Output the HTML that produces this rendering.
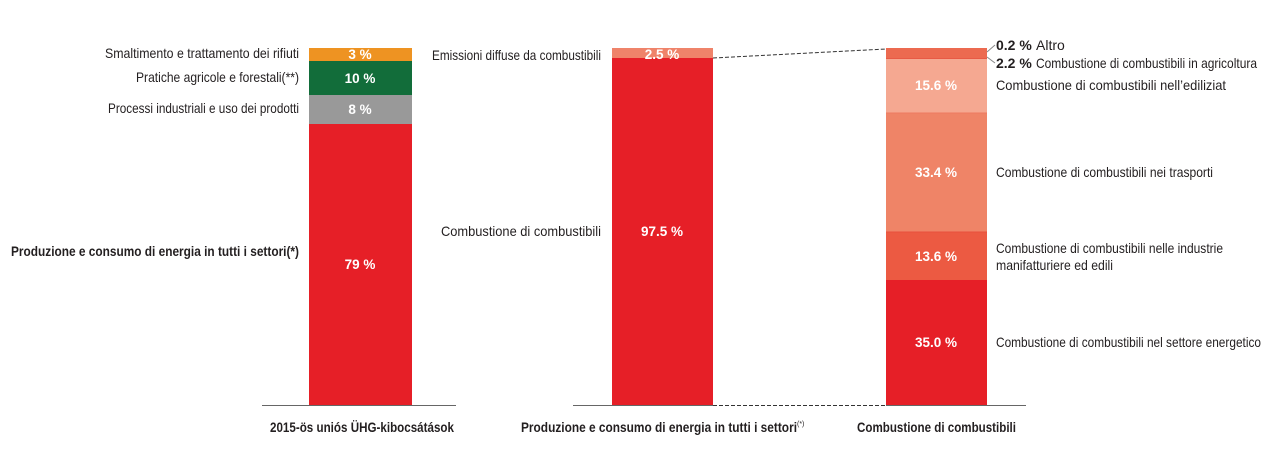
<!DOCTYPE html>
<html><head><meta charset="utf-8"><style>
html,body{margin:0;padding:0;background:#fff;width:1283px;height:471px;overflow:hidden}
svg text{font-family:"Liberation Sans Narrow","Liberation Sans",sans-serif;font-size:14px;fill:#231f20}
svg text.w{fill:#fff;font-weight:bold;font-size:13.5px}
</style></head><body>
<svg width="1283" height="471" viewBox="0 0 1283 471" xmlns="http://www.w3.org/2000/svg">
<!-- bar 1 -->
<rect x="309" y="48" width="103" height="13" fill="#ee9322"/>
<rect x="309" y="61" width="103" height="34" fill="#126d3a"/>
<rect x="309" y="95" width="103" height="29" fill="#999"/>
<rect x="309" y="124" width="103" height="281" fill="#e61f27"/>
<text class="w" x="360" y="59" text-anchor="middle">3 %</text>
<text class="w" x="360" y="83" text-anchor="middle">10 %</text>
<text class="w" x="360" y="114" text-anchor="middle">8 %</text>
<text class="w" x="360" y="269" text-anchor="middle">79 %</text>
<text x="105" y="58" textLength="194" lengthAdjust="spacingAndGlyphs">Smaltimento e trattamento dei rifiuti</text>
<text x="136" y="82" textLength="163" lengthAdjust="spacingAndGlyphs">Pratiche agricole e forestali(**)</text>
<text x="108" y="113" textLength="191" lengthAdjust="spacingAndGlyphs">Processi industriali e uso dei prodotti</text>
<text x="11" y="256" textLength="288" lengthAdjust="spacingAndGlyphs" font-weight="bold">Produzione e consumo di energia in tutti i settori(*)</text>
<line x1="262" y1="405.5" x2="456" y2="405.5" stroke="#666" stroke-width="1"/>
<!-- bar 2 -->
<rect x="612" y="48" width="101" height="10" fill="#ef836a"/>
<rect x="612" y="58" width="101" height="347" fill="#e61f27"/>
<text class="w" x="662" y="59" text-anchor="middle">2.5 %</text>
<text class="w" x="662" y="236" text-anchor="middle">97.5 %</text>
<text x="432" y="60" textLength="169" lengthAdjust="spacingAndGlyphs">Emissioni diffuse da combustibili</text>
<text x="441" y="236" textLength="160" lengthAdjust="spacingAndGlyphs">Combustione di combustibili</text>
<line x1="573" y1="405.5" x2="713" y2="405.5" stroke="#666" stroke-width="1"/>
<line x1="886" y1="405.5" x2="1026" y2="405.5" stroke="#666" stroke-width="1"/>
<line x1="713" y1="405.5" x2="886" y2="405.5" stroke="#333" stroke-width="1" stroke-dasharray="4,2"/>
<line x1="713" y1="58" x2="886" y2="49" stroke="#333" stroke-width="1" stroke-dasharray="4,2"/>
<!-- bar 3 -->
<rect x="886" y="48" width="101" height="10" fill="#ec6a50"/>
<rect x="886" y="58" width="101" height="55" fill="#f5a891"/>
<rect x="886" y="113" width="101" height="119" fill="#ef8467"/>
<rect x="886" y="232" width="101" height="48" fill="#ec5a42"/>
<rect x="886" y="280" width="101" height="125" fill="#e61f27"/>
<line x1="886" y1="58.5" x2="987" y2="58.5" stroke="#e85a45" stroke-width="1"/>
<line x1="886" y1="113" x2="987" y2="113" stroke="#ee7a60" stroke-width="1"/>
<line x1="886" y1="232" x2="987" y2="232" stroke="#e9503c" stroke-width="1"/>
<text class="w" x="936" y="90" text-anchor="middle">15.6 %</text>
<text class="w" x="936" y="177" text-anchor="middle">33.4 %</text>
<text class="w" x="936" y="261" text-anchor="middle">13.6 %</text>
<text class="w" x="936" y="347" text-anchor="middle">35.0 %</text>
<polyline points="987,52 995,45" fill="none" stroke="#888" stroke-width="1"/>
<polyline points="987,57 995,63" fill="none" stroke="#888" stroke-width="1"/>
<text x="996" y="50" font-weight="bold">0.2 %</text>
<text x="1036" y="50">Altro</text>
<text x="996" y="68" font-weight="bold">2.2 %</text>
<text x="1036" y="68" textLength="221" lengthAdjust="spacingAndGlyphs">Combustione di combustibili in agricoltura</text>
<text x="996" y="90" textLength="230" lengthAdjust="spacingAndGlyphs">Combustione di combustibili nell’ediliziat</text>
<text x="996" y="177" textLength="217" lengthAdjust="spacingAndGlyphs">Combustione di combustibili nei trasporti</text>
<text x="996" y="253" textLength="227" lengthAdjust="spacingAndGlyphs">Combustione di combustibili nelle industrie</text>
<text x="996" y="270" textLength="117" lengthAdjust="spacingAndGlyphs">manifatturiere ed edili</text>
<text x="996" y="347" textLength="265" lengthAdjust="spacingAndGlyphs">Combustione di combustibili nel settore energetico</text>
<!-- bottom labels -->
<text x="270" y="432" textLength="184" lengthAdjust="spacingAndGlyphs" font-weight="bold">2015-ös uniós ÜHG-kibocsátások</text>
<text x="521" y="432" textLength="276" lengthAdjust="spacingAndGlyphs" font-weight="bold">Produzione e consumo di energia in tutti i settori</text>
<text x="797" y="426" style="font-size:7px">(*)</text>
<text x="857" y="432" textLength="159" lengthAdjust="spacingAndGlyphs" font-weight="bold">Combustione di combustibili</text>
</svg>
</body></html>
